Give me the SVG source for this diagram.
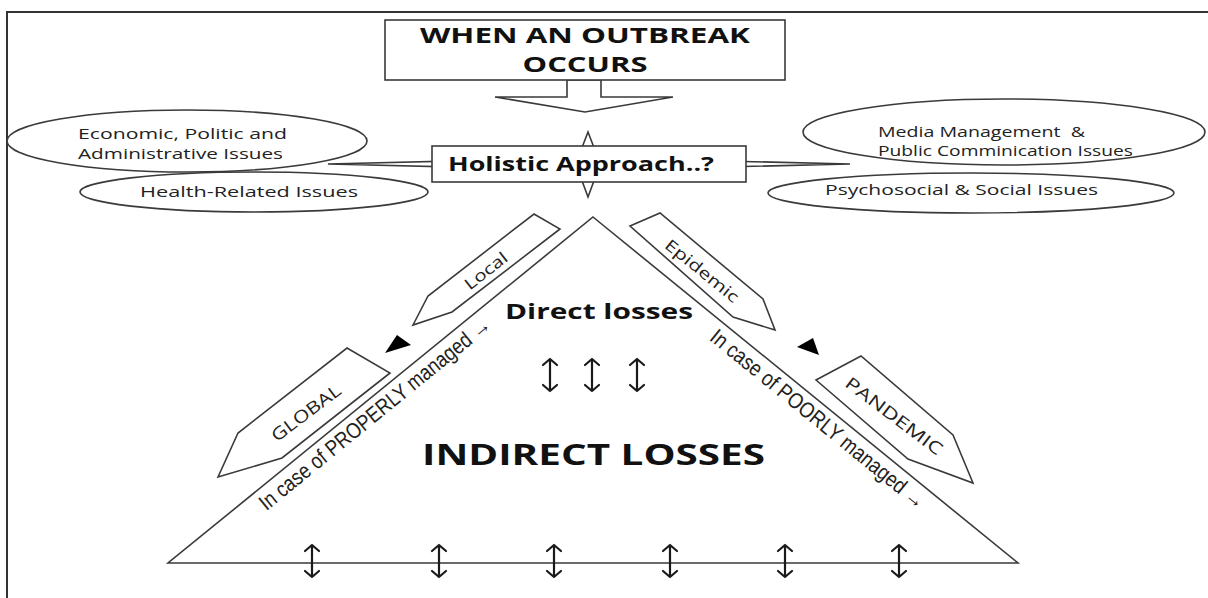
<svg xmlns="http://www.w3.org/2000/svg" xmlns:xlink="http://www.w3.org/1999/xlink" width="1208" height="598" viewBox="0 0 1208 598">
<style>
.ln{fill:#fff;stroke:#3a3a3a;stroke-width:1.6}
.bt{font-family:"Open Sans","Liberation Sans",sans-serif;font-weight:700;fill:#111}
.rt{font-family:"Open Sans","Liberation Sans",sans-serif;font-weight:400;fill:#222;font-size:14px}
.nt{font-family:"Liberation Sans","DejaVu Sans",sans-serif;fill:#222;font-size:22px}
.at{font-family:"Open Sans","Liberation Sans",sans-serif;fill:#222}
.dbl{fill:none;stroke:#1a1a1a;stroke-width:2.2;stroke-linecap:round;stroke-linejoin:round}
.blk{fill:#000}
</style>
<defs>
<path id="dbl" d="M0,-16 V16 M-7,-10 L0,-16 L7,-10 M-7,10 L0,16 L7,10"/>
</defs>
<rect width="1208" height="598" fill="#fff"/>
<!-- frame -->
<path d="M7,598 V12 H1208" fill="none" stroke="#333" stroke-width="2"/>

<g id="connectors">
  <!-- down arrow from top box -->
  <polygon class="ln" points="567,80 567,97 495,97 585,112 673,97 601,97 601,80"/>
  <!-- star arms of holistic approach -->
  <polygon class="ln" points="588,132 598,158 850,164 598,170 588,197 578,170 328,164 578,158"/>
</g>

<g id="top-box">
  <rect class="ln" x="385" y="20" width="400" height="60"/>
  <text class="bt" x="585" y="43" font-size="21.5" text-anchor="middle" textLength="330" lengthAdjust="spacingAndGlyphs">WHEN AN OUTBREAK</text>
  <text class="bt" x="585" y="72" font-size="21.5" text-anchor="middle" textLength="125" lengthAdjust="spacingAndGlyphs">OCCURS</text>
</g>

<g id="holistic">
  <rect class="ln" x="432" y="146" width="314" height="36"/>
  <text class="bt" x="448" y="171" font-size="20" textLength="266" lengthAdjust="spacingAndGlyphs">Holistic Approach..?</text>
</g>

<g id="economic">
  <ellipse class="ln" cx="187" cy="141" rx="180" ry="31"/>
  <text class="rt" x="78" y="139" textLength="209" lengthAdjust="spacingAndGlyphs">Economic, Politic and</text>
  <text class="rt" x="78" y="159" textLength="205" lengthAdjust="spacingAndGlyphs">Administrative Issues</text>
</g>

<g id="health">
  <ellipse class="ln" cx="254" cy="192" rx="174" ry="20"/>
  <text class="rt" x="140" y="197" textLength="218" lengthAdjust="spacingAndGlyphs">Health-Related Issues</text>
</g>

<g id="media">
  <ellipse class="ln" cx="1004" cy="132" rx="201" ry="33"/>
  <text class="rt" x="878" y="137" xml:space="preserve" style="white-space:pre" textLength="207" lengthAdjust="spacingAndGlyphs">Media Management  &amp;</text>
  <text class="rt" x="878" y="156" textLength="255" lengthAdjust="spacingAndGlyphs">Public Comminication Issues</text>
</g>

<g id="psychosocial">
  <ellipse class="ln" cx="971" cy="193" rx="203" ry="20"/>
  <text class="rt" x="825" y="195" textLength="273" lengthAdjust="spacingAndGlyphs">Psychosocial &amp; Social Issues</text>
</g>

<g id="triangle">
  <polygon class="ln" points="593,217 1018,563 168,563"/>
  <text class="bt" x="505" y="319" font-size="21" textLength="188" lengthAdjust="spacingAndGlyphs">Direct losses</text>
  <text class="bt" x="422" y="465" font-size="28" textLength="343" lengthAdjust="spacingAndGlyphs">INDIRECT LOSSES</text>
  <text class="nt" transform="translate(266.4,511.3) rotate(-39.15)" textLength="291" lengthAdjust="spacingAndGlyphs">In case of PROPERLY managed →</text>
  <text class="nt" transform="translate(708.6,339.5) rotate(39.15)" textLength="270" lengthAdjust="spacingAndGlyphs">In case of POORLY managed →</text>
  <g class="dbl">
    <use xlink:href="#dbl" x="550" y="375"/>
    <use xlink:href="#dbl" x="592" y="375"/>
    <use xlink:href="#dbl" x="637" y="375"/>
    <use xlink:href="#dbl" x="312" y="561"/>
    <use xlink:href="#dbl" x="439" y="561"/>
    <use xlink:href="#dbl" x="554" y="561"/>
    <use xlink:href="#dbl" x="670" y="561"/>
    <use xlink:href="#dbl" x="785" y="561"/>
    <use xlink:href="#dbl" x="899" y="561"/>
  </g>
</g>

<g id="local">
  <polygon class="ln" points="413,325 428,296 534,214 560,229 452,312"/>
  <text class="at" font-size="16" text-anchor="middle" transform="translate(486,271) rotate(-38)" y="5.5" textLength="50" lengthAdjust="spacingAndGlyphs">Local</text>
</g>

<g id="global">
  <polygon class="ln" points="218,477 238,433 347,348 390,373 282,458"/>
  <text class="at" font-size="17" text-anchor="middle" transform="translate(306,413) rotate(-37)" y="6" textLength="82" lengthAdjust="spacingAndGlyphs">GLOBAL</text>
</g>

<g id="epidemic">
  <polygon class="ln" points="630,226 660,213 763,299 775,330 733,317"/>
  <text class="at" font-size="16" text-anchor="middle" transform="translate(702,271) rotate(39)" y="5.5" textLength="90" lengthAdjust="spacingAndGlyphs">Epidemic</text>
</g>

<g id="pandemic">
  <polygon class="ln" points="816,380 861,356 953,435 973,483 908,459"/>
  <text class="at" font-size="17" text-anchor="middle" transform="translate(894,416) rotate(37)" y="6" textLength="117" lengthAdjust="spacingAndGlyphs">PANDEMIC</text>
</g>

<g id="markers">
  <polygon class="blk" points="397,335 411,345 385,353"/>
  <polygon class="blk" points="797,347 813,338 819,355"/>
</g>
</svg>
